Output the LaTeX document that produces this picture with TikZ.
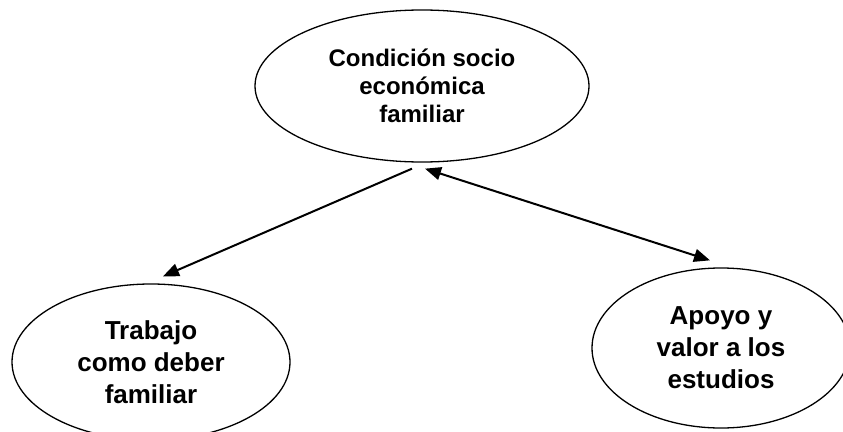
\documentclass[tikz,border=0pt]{standalone}
\usepackage{fontspec}
\setmainfont{Liberation Sans}
\usetikzlibrary{shapes.geometric,arrows.meta}
\tikzset{
  oval/.style={draw=black, line width=1.3pt, ellipse, inner sep=0pt, align=center,
    font=\fontsize{24}{28}\selectfont\bfseries},
  bigoval/.style={oval, font=\fontsize{26}{32}\selectfont\bfseries},
  arr/.style={line width=2pt, -{Triangle[length=16pt,width=13pt]}},
  darr/.style={line width=2pt, {Triangle[length=16pt,width=13pt]}-{Triangle[length=16pt,width=13pt]}}
}
\begin{document}
\begin{tikzpicture}[x=1pt,y=-1pt]
\useasboundingbox (0,0) rectangle (843,431);
\clip (0,0) rectangle (843,431);
\fill[white] (0,0) rectangle (843,431);
\node[oval, minimum width=334pt, minimum height=152pt] (cond) at (422,86)
  {Condición socio\\económica\\familiar};
\node[bigoval, minimum width=278pt, minimum height=156pt] (trab) at (151,362)
  {Trabajo\\como deber\\familiar};
\node[bigoval, minimum width=258pt, minimum height=160pt] (apoyo) at (721,348)
  {Apoyo y\\valor a los\\estudios};
\draw[arr] ([xshift=-10pt,yshift=-6pt]cond.south) -- ([xshift=12pt,yshift=7pt]trab.north);
\draw[darr] ([xshift=3pt,yshift=-6pt]cond.south) -- ([xshift=-11pt,yshift=7pt]apoyo.north);
\end{tikzpicture}
\end{document}
